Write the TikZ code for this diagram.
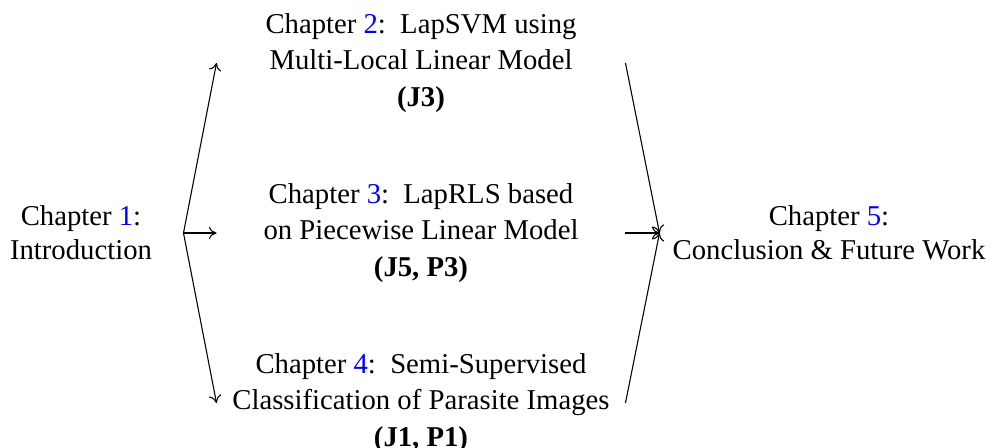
\documentclass[tikz,border=0pt]{standalone}
\usepackage{fontspec}
\setmainfont{Liberation Serif}
\usepackage{xcolor}
\usetikzlibrary{arrows.meta}
\newcommand{\pxu}{0.418pt}
\newcommand{\chref}[1]{\textcolor{blue}{#1}}
\begin{document}
\begin{tikzpicture}[x=\pxu,y=-\pxu,
  chap/.style={inner sep=0pt,align=center},
  side/.style={chap,font=\fontsize{12}{14.2}\selectfont},
  mid/.style={chap,minimum width={408*\pxu},font=\fontsize{12}{15.2}\selectfont},
  flow/.style={-{To[length=3.2pt,width=5.2pt]},line width=0.45pt}]
\useasboundingbox (0,0) rectangle (992,448);

% introduction and conclusion
\node[side,minimum width={204*\pxu}] (intro) at (81,233) {Chapter \chref{1}:\\Introduction};
\node[side,minimum width={338*\pxu}] (concl) at (829,233) {Chapter \chref{5}:\\Conclusion \& Future Work};

% the three contribution chapters
\node[mid] (lapsvm) at (421,63) {Chapter \chref{2}:\ \ LapSVM using\\Multi-Local Linear Model\\\textbf{(J3)}};
\node[mid] (laprls) at (421,233) {Chapter \chref{3}:\ \ LapRLS based\\on Piecewise Linear Model\\\textbf{(J5, P3)}};
\node[mid] (parasite) at (421,403) {Chapter \chref{4}:\ \ Semi-Supervised\\Classification of Parasite Images\\\textbf{(J1, P1)}};

% connectors
\draw[flow] (intro.east) -- (lapsvm.west);
\draw[flow] (intro.east) -- (laprls.west);
\draw[flow] (intro.east) -- (parasite.west);
\draw[flow] (lapsvm.east) -- (concl.west);
\draw[flow] (laprls.east) -- (concl.west);
\draw[flow] (parasite.east) -- (concl.west);
\end{tikzpicture}
\end{document}
